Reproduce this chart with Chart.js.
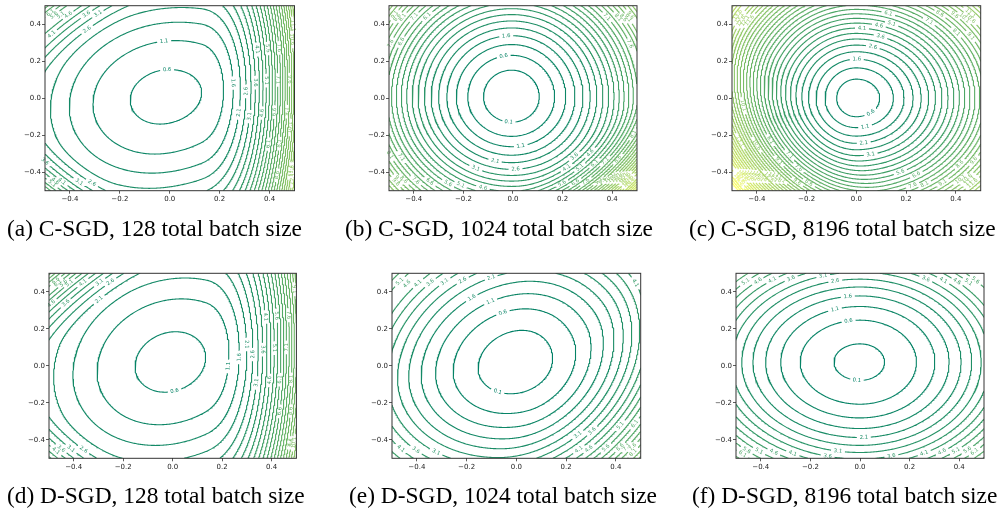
<!DOCTYPE html>
<html><head><meta charset="utf-8">
<script src="https://cdn.jsdelivr.net/npm/chart.js@4.4.1/dist/chart.umd.min.js"></script>
<style>
html,body{margin:0;padding:0;background:#fff;}
body{width:1006px;height:516px;position:relative;overflow:hidden;}
canvas{position:absolute;}
.cap{position:absolute;font-family:'Liberation Serif','Times New Roman',serif;font-size:23.4px;line-height:23px;white-space:nowrap;color:#000;}
</style></head><body>
<script>
// ---------- data ----------
const axisTicks = [-0.4, -0.2, 0.0, 0.2, 0.4];
const contourLevels = [0.1,0.6,1.1,1.6,2.1,2.6,3.1,3.6,4.1,4.6,5.1,5.6,6.1,6.6,7.1,7.6,8.1,8.6,9.1,9.6,
  10.1,10.6,11.1,11.6,12.1,12.6,13.1,13.6,14.1,14.6,15.1,15.6,16.1,16.6,17.1,17.6,18.1,18.6,19.1,19.6,20.1];
const captions = ["(a) C-SGD, 128 total batch size","(b) C-SGD, 1024 total batch size","(c) C-SGD, 8196 total batch size",
  "(d) D-SGD, 128 total batch size","(e) D-SGD, 1024 total batch size","(f) D-SGD, 8196 total batch size"];
// loss-surface description per panel: [x0, y0, fmin, power, Aleft, Aright, Btop, Bbottom, Cxy]
const surfA = [-0.02, 0.01, 0.45, 2, 8, 7, 7.3, 6.8, -2];
const surfB = [-0.005, 0.008, -0.25, 2, 27, 28.5, 17, 18.5, 0];
const surfC = [0, 0, 0.2, 1.75, 56, 40, 33, 35, 0];
const surfD = [-0.01, 0.02, 0.45, 2, 7.6, 7.5, 5.7, 5.8, -2];
const surfE = [0, 0.013, -0.19, 2, 12.5, 14, 9.3, 11, -3.5];
const surfF = [0, 0.02, 0, 2.15, 10.7, 12, 12.1, 12, 0];
// steep walls: [nx, ny, offset, weight, power]
const wallsA = [[1,0,0.12,95,2.5],[-0.707,0.707,0.42,35,2],[-0.707,-0.707,0.48,60,2]];
const wallsB = [[0.707,-0.707,0.35,45,2]];
const wallsC = [[-0.85,-0.53,0.15,20,2]];
const wallsD = [[1,0,0.13,80,2.5],[-0.707,0.707,0.4,45,2],[-0.707,-0.707,0.5,45,2]];
const wallsE = [[0.9,-0.44,0.15,8,2]];
const wallsF = [];

// ---------- layout ----------
const panels = [
  {rect:[45,5.7,294.5,190.7],    surf:surfA, walls:wallsA, cap:0, capX:7,   capBase:236},
  {rect:[389.3,5.7,637.3,190.7], surf:surfB, walls:wallsB, cap:1, capX:345, capBase:236},
  {rect:[732.3,5.7,981,190.7],   surf:surfC, walls:wallsC, cap:2, capX:689, capBase:236},
  {rect:[49.3,273.3,296.7,458.3],surf:surfD, walls:wallsD, cap:3, capX:7,   capBase:503.6},
  {rect:[392.3,273.3,641,458.3], surf:surfE, walls:wallsE, cap:4, capX:349, capBase:503.6},
  {rect:[736,273.3,984,458.3],   surf:surfF, walls:wallsF, cap:5, capX:692, capBase:503.6}
];

function surface(x, y, S, W) {
  const [x0,y0,f0,p,AL,AR,BT,BB,C] = S;
  const u = x - x0, v = y - y0;
  let Q = (u < 0 ? AL : AR)*u*u + (v > 0 ? BT : BB)*v*v + C*u*v;
  if (Q < 0) Q = 0;
  let f = f0 + Math.pow(Q, p/2);
  for (const [nx,ny,o,w,q] of W) { const d = nx*x + ny*y - o; if (d > 0) f += w*Math.pow(d, q); }
  return f;
}

function summer(t){ t=Math.max(0,Math.min(1,t)); return `rgb(${Math.round(255*t)},${Math.round(255*(0.5+0.5*t))},102)`; }
const fmtTick = v => (v < -1e-9 ? '\u2212' : '') + Math.abs(v).toFixed(1);

// marching squares -> connected paths
function contourPaths(F, N, g, L) {
  const H = (N-1)*N, total = H + N*(N-1);
  const n1 = new Int32Array(total).fill(-1), n2 = new Int32Array(total).fill(-1);
  const px = new Float64Array(total), py = new Float64Array(total);
  const has = new Uint8Array(total);
  const hId=(i,j)=>j*(N-1)+i, vId=(i,j)=>H+j*N+i;
  function ptH(id,i,j){ if(has[id])return; has[id]=1; const a=F[j*N+i], b=F[j*N+i+1]; const t=(L-a)/(b-a); px[id]=g[i]+t*(g[i+1]-g[i]); py[id]=g[j]; }
  function ptV(id,i,j){ if(has[id])return; has[id]=1; const a=F[j*N+i], b=F[(j+1)*N+i]; const t=(L-a)/(b-a); px[id]=g[i]; py[id]=g[j]+t*(g[j+1]-g[j]); }
  function link(a,b){ if(n1[a]<0)n1[a]=b; else n2[a]=b; if(n1[b]<0)n1[b]=a; else n2[b]=a; }
  const T = {1:[[3,0]],2:[[0,1]],3:[[3,1]],4:[[1,2]],6:[[0,2]],7:[[3,2]],8:[[2,3]],9:[[0,2]],11:[[1,2]],12:[[1,3]],13:[[0,1]],14:[[3,0]]};
  for (let j=0;j<N-1;j++) for (let i=0;i<N-1;i++) {
    const v0=F[j*N+i], v1=F[j*N+i+1], v2=F[(j+1)*N+i+1], v3=F[(j+1)*N+i];
    const c=(v0>L?1:0)|(v1>L?2:0)|(v2>L?4:0)|(v3>L?8:0);
    if (c===0||c===15) continue;
    let segs;
    if (c===5||c===10) {
      const ctr=(v0+v1+v2+v3)/4>L;
      if (c===5) segs = ctr?[[0,1],[2,3]]:[[3,0],[1,2]];
      else segs = ctr?[[3,0],[1,2]]:[[0,1],[2,3]];
    } else segs = T[c];
    const e=[hId(i,j),vId(i+1,j),hId(i,j+1),vId(i,j)];
    for (const [a,b] of segs) {
      for (const k of [a,b]) {
        if (k===0) ptH(e[0],i,j); else if (k===1) ptV(e[1],i+1,j); else if (k===2) ptH(e[2],i,j+1); else ptV(e[3],i,j);
      }
      link(e[a],e[b]);
    }
  }
  const visited=new Uint8Array(total), paths=[];
  function walk(start){
    const pts=[]; let prev=-1, cur=start;
    while(cur>=0 && !visited[cur]){
      visited[cur]=1; pts.push([px[cur],py[cur]]);
      const nx = (n1[cur]!==prev) ? n1[cur] : n2[cur];
      prev=cur; cur=nx;
    }
    let closed=false;
    if (cur===start && pts.length>2){ pts.push([px[start],py[start]]); closed=true; }
    return {pts, closed};
  }
  for (let id=0;id<total;id++) if (has[id] && !visited[id] && n2[id]<0) paths.push(walk(id));
  for (let id=0;id<total;id++) if (has[id] && !visited[id]) paths.push(walk(id));
  return paths.filter(p=>p.pts.length>1);
}

const mctx = document.createElement('canvas').getContext('2d');
const LABEL_FONT = '5.3px "DejaVu Sans"';
mctx.font = LABEL_FONT;

function resample(P, step){
  const out=[[P[0][0],P[0][1]]]; let acc=0;
  for(let k=1;k<P.length;k++){
    const x0=P[k-1][0], y0=P[k-1][1], x1=P[k][0], y1=P[k][1];
    const segLen=Math.hypot(x1-x0,y1-y0);
    if (segLen===0) continue;
    let pos=step-acc;
    while(pos<=segLen){ const t=pos/segLen; out.push([x0+(x1-x0)*t,y0+(y1-y0)*t]); pos+=step; }
    acc=segLen-(pos-step);
  }
  const last=P[P.length-1], lo=out[out.length-1];
  if (Math.hypot(last[0]-lo[0],last[1]-lo[1])>1e-6) out.push([last[0],last[1]]);
  return out;
}

// matplotlib-like inline label placement on a coarse vertex spacing
const VSTEP = 4;
function labelPath(path, text, W, H, placed) {
  const R = resample(path.pts.map(p=>[(p[0]+0.5)*W,(0.5-p[1])*H]), 1);
  const n = R.length;
  const lw = mctx.measureText(text).width;
  const Rc = []; for(let k=0;k<n;k+=VSTEP) Rc.push(R[k]);
  const m = Rc.length;
  let mnx=Infinity,mxx=-Infinity,mny=Infinity,mxy=-Infinity;
  for(const p of Rc){ if(p[0]<mnx)mnx=p[0]; if(p[0]>mxx)mxx=p[0]; if(p[1]<mny)mny=p[1]; if(p[1]>mxy)mxy=p[1]; }
  const ok = m > 10*lw || (mxx-mnx) > 1.2*lw || (mxy-mny) > 1.2*lw;
  if (!ok || n < lw+8) return {parts:[R], label:null};
  const nb = Math.ceil(m/lw) > 1 ? Math.ceil(m/lw) : 1;
  const bs = nb===1 ? m : Math.floor(lw), hb = Math.floor(bs/2);
  const dist=[];
  for(let b=0;b<nb;b++){
    const f=Rc[(b*bs)%m], l=Rc[(b*bs+bs-1)%m];
    const dx=l[0]-f[0], dy=l[1]-f[1], len=Math.hypot(dx,dy);
    let sum=0;
    for(let k=0;k<bs;k++){ const p=Rc[(b*bs+k)%m]; sum+=Math.abs((f[1]-p[1])*dx-(f[0]-p[0])*dy); }
    dist.push([len>0?sum/len:Infinity,b]);
  }
  dist.sort((a,b)=>a[0]-b[0]);
  let chosen=dist[0][1];
  for(const [d,b] of dist){
    const c=Rc[(b*bs+hb)%m];
    if(!placed.some(q=>Math.hypot(q[0]-c[0],q[1]-c[1])<1.2*lw)){ chosen=b; break; }
  }
  let ci=((chosen*bs+hb)%m)*VSTEP;
  ci=Math.min(ci,n-1);
  const gap=Math.ceil(lw/2+1.5);
  let parts;
  if (path.closed) {
    const mm=n-1, keep=mm-(2*gap+1), seq=[];
    for(let t=0;t<keep;t++) seq.push(R[(ci+gap+1+t)%mm]);
    parts=[seq];
  } else {
    parts=[R.slice(0,Math.max(0,ci-gap)), R.slice(Math.min(n,ci+gap+1))];
  }
  let ia=ci-3, ib=ci+3;
  if (path.closed){ ia=(ia+n-1)%(n-1); ib=ib%(n-1); } else { ia=Math.max(0,ia); ib=Math.min(n-1,ib); }
  let ang=Math.atan2(R[ib][1]-R[ia][1],R[ib][0]-R[ia][0]);
  if (ang>Math.PI/2) ang-=Math.PI; if (ang<-Math.PI/2) ang+=Math.PI;
  placed.push(R[ci]);
  return {parts:parts.filter(p=>p.length>1), label:{px:R[ci][0], py:R[ci][1], angle:ang, text}};
}

const framePlugin = {id:'frame', afterDraw(chart){ const {ctx,chartArea:a}=chart; ctx.save(); ctx.strokeStyle='#333'; ctx.lineWidth=1; ctx.strokeRect(a.left,a.top,a.right-a.left,a.bottom-a.top); ctx.restore(); }};
function makeLabelPlugin(labels){
  return {id:'clabels', afterDatasetsDraw(chart){
    const ctx=chart.ctx, X=chart.scales.x, Y=chart.scales.y;
    ctx.save(); ctx.font=LABEL_FONT; ctx.textAlign='center'; ctx.textBaseline='middle';
    for(const L of labels){ ctx.save(); ctx.translate(X.getPixelForValue(L.x),Y.getPixelForValue(L.y)); ctx.rotate(L.angle); ctx.fillStyle=L.color; ctx.fillText(L.text,0,0); ctx.restore(); }
    ctx.restore();
  }};
}

const N=201;
const grid=Array.from({length:N},(_,i)=>-0.5+i/(N-1));
const cmin=contourLevels[0], cmax=contourLevels[contourLevels.length-1];

panels.forEach(pn=>{
  const [L,T,R,B]=pn.rect;
  const left=45, cl=L-left, ct=Math.floor(T)-5, padTop=T-ct;
  const cw=Math.ceil(R-cl)+12, padRight=cw-(R-cl);
  const ch=Math.ceil(B-ct)+25, xH=ch-(B-ct);
  const W=R-L, H=B-T;
  const F=new Float64Array(N*N);
  for(let j=0;j<N;j++) for(let i=0;i<N;i++) F[j*N+i]=surface(grid[i],grid[j],pn.surf,pn.walls);
  const datasets=[], labels=[], placed=[];
  contourLevels.forEach(lv=>{
    const paths=contourPaths(F,N,grid,lv);
    if(!paths.length) return;
    const col=summer((lv-cmin)/(cmax-cmin));
    const data=[], txt=lv.toFixed(1);
    paths.forEach(p=>{
      const r=labelPath(p,txt,W,H,placed);
      if(r.label){ labels.push({x:r.label.px/W-0.5, y:0.5-r.label.py/H, angle:r.label.angle, text:txt, color:col}); }
      r.parts.forEach(part=>{ part.forEach(q=>data.push({x:q[0]/W-0.5,y:0.5-q[1]/H})); data.push({x:NaN,y:NaN}); });
    });
    datasets.push({data, borderColor:col, borderWidth:1.1, pointRadius:0, showLine:true, fill:false, tension:0, spanGaps:false});
  });
  const cv=document.createElement('canvas');
  cv.width=cw; cv.height=ch; cv.style.left=cl+'px'; cv.style.top=ct+'px'; cv.style.width=cw+'px'; cv.style.height=ch+'px';
  document.body.appendChild(cv);
  const tickFont={family:'DejaVu Sans',size:7};
  new Chart(cv,{
    type:'scatter',
    data:{datasets},
    options:{
      responsive:false, animation:false, devicePixelRatio:1, parsing:false, events:[],
      layout:{padding:{left:0,top:padTop,right:padRight,bottom:0}},
      plugins:{legend:{display:false},tooltip:{enabled:false}},
      scales:{
        x:{type:'linear',min:-0.5,max:0.5,
          afterBuildTicks:s=>{s.ticks=axisTicks.map(v=>({value:v}));},
          afterFit:s=>{s.height=xH;},
          ticks:{font:tickFont,color:'#222',padding:1.5,maxRotation:0,autoSkip:false,callback:v=>fmtTick(v)},
          grid:{drawOnChartArea:false,drawTicks:true,tickLength:3,color:'#333',lineWidth:0.8},
          border:{display:false}},
        y:{type:'linear',min:-0.5,max:0.5,
          afterBuildTicks:s=>{s.ticks=axisTicks.map(v=>({value:v}));},
          afterFit:s=>{s.width=left;},
          ticks:{font:tickFont,color:'#222',padding:1,autoSkip:false,callback:v=>fmtTick(v)},
          grid:{drawOnChartArea:false,drawTicks:true,tickLength:3,color:'#333',lineWidth:0.8},
          border:{display:false}}
      }
    },
    plugins:[makeLabelPlugin(labels),framePlugin]
  });
  const d=document.createElement('div');
  d.className='cap'; d.textContent=captions[pn.cap];
  d.style.left=pn.capX+'px'; d.style.top=(pn.capBase-19.2)+'px';
  document.body.appendChild(d);
});
</script>
</body></html>
